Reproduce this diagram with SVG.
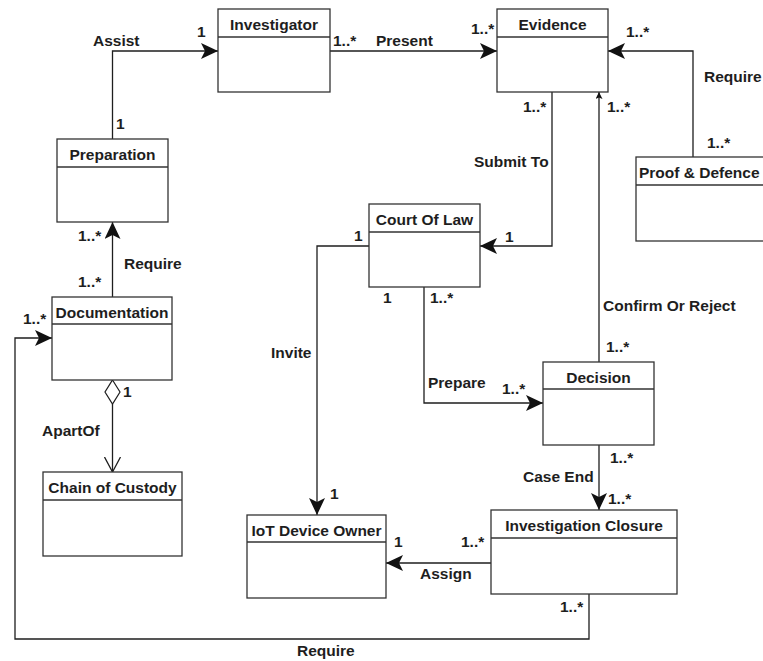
<svg xmlns="http://www.w3.org/2000/svg" width="763" height="661" viewBox="0 0 763 661">
<style>
.box{fill:#fff;stroke:#333;stroke-width:1.3}
.hd{fill:none;stroke:#333;stroke-width:1.3}
.ttl{font-family:"Liberation Sans",Arial,sans-serif;font-size:15.5px;font-weight:bold;fill:#1e1e1e;text-anchor:middle}
.lbl{font-family:"Liberation Sans",Arial,sans-serif;font-size:15.5px;font-weight:bold;fill:#1e1e1e}
.edge{fill:none;stroke:#1e1e1e;stroke-width:1.3}
</style>
<defs>
<marker id="arr" viewBox="0 0 17 16" refX="17" refY="8" markerWidth="17" markerHeight="16" markerUnits="userSpaceOnUse" orient="auto">
<path d="M0,0 L17,8 L0,16 L4,8 Z" fill="#111"/>
</marker>
<marker id="arrs" viewBox="0 0 7 7" refX="7" refY="3.5" markerWidth="7" markerHeight="7" markerUnits="userSpaceOnUse" orient="auto">
<path d="M0,0 L7,3.5 L0,7 L1.5,3.5 Z" fill="#111"/>
</marker>
<marker id="open" viewBox="0 0 16 18" refX="15" refY="9" markerWidth="16" markerHeight="18" markerUnits="userSpaceOnUse" orient="auto">
<path d="M0,1 L15,9 L0,17" fill="none" stroke="#1e1e1e" stroke-width="1.3"/>
</marker>
</defs>
<rect width="763" height="661" fill="#fff"/>

<g id="connectors">
<path class="edge" d="M112.5,139 V51 H218" marker-end="url(#arr)"/>
<path class="edge" d="M330,51 H497" marker-end="url(#arr)"/>
<path class="edge" d="M693,157 V51 H608" marker-end="url(#arr)"/>
<path class="edge" d="M552,92 V246 H480" marker-end="url(#arr)"/>
<path class="edge" d="M599,362 V92" marker-end="url(#arrs)"/>
<path class="edge" d="M112.5,297 V222" marker-end="url(#arr)"/>
<path class="edge" d="M369,246 H317 V515" marker-end="url(#arr)"/>
<path class="edge" d="M424,287 V403 H543" marker-end="url(#arr)"/>
<path class="edge" d="M599,445 V510" marker-end="url(#arr)"/>
<path class="edge" d="M491,563 H386" marker-end="url(#arr)"/>
<path class="edge" d="M589,594 V639 H15 V338 H52" marker-end="url(#arr)"/>
<path class="edge" d="M112.5,404 V472" marker-end="url(#open)"/>
<path d="M112.5,380 L120,392 L112.5,404 L105,392 Z" fill="#fff" stroke="#1e1e1e" stroke-width="1.2"/>
</g>

<g id="labels">
<text class="lbl" x="93" y="46">Assist</text>
<text class="lbl" x="197" y="37">1</text>
<text class="lbl" x="116" y="129">1</text>
<text class="lbl" x="376" y="46">Present</text>
<text class="lbl" x="333" y="46">1..*</text>
<text class="lbl" x="471" y="34">1..*</text>
<text class="lbl" x="626" y="37">1..*</text>
<text class="lbl" x="704" y="82">Require</text>
<text class="lbl" x="707" y="148">1..*</text>
<text class="lbl" x="523" y="112">1..*</text>
<text class="lbl" x="607" y="112">1..*</text>
<text class="lbl" x="474" y="167">Submit To</text>
<text class="lbl" x="505" y="242">1</text>
<text class="lbl" x="354" y="241">1</text>
<text class="lbl" x="383" y="303">1</text>
<text class="lbl" x="430" y="303">1..*</text>
<text class="lbl" x="271" y="358">Invite</text>
<text class="lbl" x="428" y="388">Prepare</text>
<text class="lbl" x="502" y="394">1..*</text>
<text class="lbl" x="603" y="311">Confirm Or Reject</text>
<text class="lbl" x="606" y="352">1..*</text>
<text class="lbl" x="610" y="463">1..*</text>
<text class="lbl" x="523" y="482">Case End</text>
<text class="lbl" x="608" y="504">1..*</text>
<text class="lbl" x="330" y="499">1</text>
<text class="lbl" x="394" y="547">1</text>
<text class="lbl" x="461" y="547">1..*</text>
<text class="lbl" x="420" y="579">Assign</text>
<text class="lbl" x="560" y="612">1..*</text>
<text class="lbl" x="297" y="656">Require</text>
<text class="lbl" x="78" y="241">1..*</text>
<text class="lbl" x="124" y="269">Require</text>
<text class="lbl" x="78" y="287">1..*</text>
<text class="lbl" x="23" y="324">1..*</text>
<text class="lbl" x="123" y="397">1</text>
<text class="lbl" x="42" y="436">ApartOf</text>
</g>

<g id="investigator">
<rect class="box" x="218" y="9" width="112" height="83"/>
<line class="hd" x1="218" y1="37" x2="330" y2="37"/>
<text class="ttl" x="274" y="30">Investigator</text>
</g>
<g id="evidence">
<rect class="box" x="497" y="9" width="111" height="83"/>
<line class="hd" x1="497" y1="37" x2="608" y2="37"/>
<text class="ttl" x="552.5" y="30">Evidence</text>
</g>
<g id="proof-defence">
<rect class="box" x="636" y="157" width="132" height="84"/>
<line class="hd" x1="636" y1="185" x2="768" y2="185"/>
<text class="lbl" x="639" y="178">Proof &amp; Defence</text>
</g>
<g id="preparation">
<rect class="box" x="57" y="139" width="111" height="83"/>
<line class="hd" x1="57" y1="167" x2="168" y2="167"/>
<text class="ttl" x="112.5" y="160">Preparation</text>
</g>
<g id="court-of-law">
<rect class="box" x="369" y="204" width="111" height="83"/>
<line class="hd" x1="369" y1="232" x2="480" y2="232"/>
<text class="ttl" x="424.5" y="225">Court Of Law</text>
</g>
<g id="documentation">
<rect class="box" x="52" y="297" width="120" height="83"/>
<line class="hd" x1="52" y1="324" x2="172" y2="324"/>
<text class="ttl" x="112" y="318">Documentation</text>
</g>
<g id="decision">
<rect class="box" x="543" y="362" width="111" height="83"/>
<line class="hd" x1="543" y1="389" x2="654" y2="389"/>
<text class="ttl" x="598.5" y="383">Decision</text>
</g>
<g id="chain-of-custody">
<rect class="box" x="43" y="472" width="139" height="84"/>
<line class="hd" x1="43" y1="500" x2="182" y2="500"/>
<text class="ttl" x="112.5" y="493">Chain of Custody</text>
</g>
<g id="iot-device-owner">
<rect class="box" x="247" y="515" width="139" height="83"/>
<line class="hd" x1="247" y1="542" x2="386" y2="542"/>
<text class="ttl" x="316.5" y="536">IoT Device Owner</text>
</g>
<g id="investigation-closure">
<rect class="box" x="491" y="510" width="186" height="84"/>
<line class="hd" x1="491" y1="538" x2="677" y2="538"/>
<text class="ttl" x="584" y="531">Investigation Closure</text>
</g>
</svg>
